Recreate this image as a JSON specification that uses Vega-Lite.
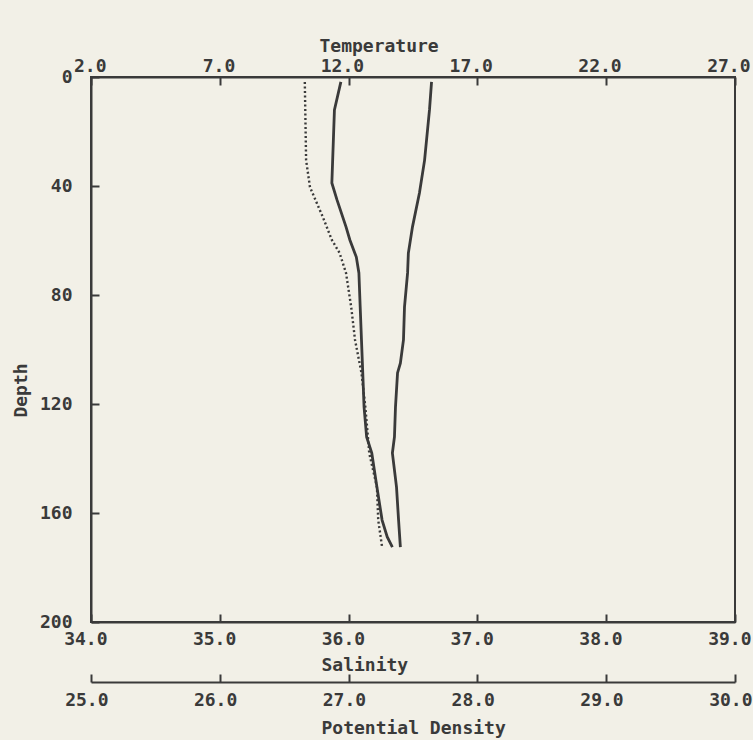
{
  "$schema": "https://vega.github.io/schema/vega-lite/v6.json",
  "width": 644,
  "height": 545,
  "autosize": {"type": "none"},
  "padding": {"left": 91, "top": 77, "right": 18, "bottom": 118},
  "background": "#f2f0e7",
  "config": {
    "view": {"stroke": "#3a3a3a", "strokeWidth": 2},
    "axis": {
      "labelFont": "DejaVu Sans Mono", "labelFontSize": 18, "labelFontWeight": "bold", "labelColor": "#3a3a3a",
      "titleFont": "DejaVu Sans Mono", "titleFontSize": 18, "titleFontWeight": "bold", "titleColor": "#3a3a3a",
      "domainColor": "#3a3a3a", "domainWidth": 2, "tickColor": "#3a3a3a", "tickWidth": 2,
      "grid": false, "labelFlush": false, "labelOverlap": false
    }
  },
  "datasets": {
    "temp": [
      {"depth": 1.8, "temperature": 15.22},
      {"depth": 12.1, "temperature": 15.14},
      {"depth": 30.5, "temperature": 14.95},
      {"depth": 42.6, "temperature": 14.75},
      {"depth": 55.0, "temperature": 14.48},
      {"depth": 64.6, "temperature": 14.32},
      {"depth": 71.9, "temperature": 14.29},
      {"depth": 84.4, "temperature": 14.17},
      {"depth": 96.5, "temperature": 14.13},
      {"depth": 105.0, "temperature": 14.01},
      {"depth": 108.6, "temperature": 13.90},
      {"depth": 121.1, "temperature": 13.82},
      {"depth": 132.1, "temperature": 13.78},
      {"depth": 138.0, "temperature": 13.70},
      {"depth": 150.5, "temperature": 13.86},
      {"depth": 162.6, "temperature": 13.94},
      {"depth": 172.5, "temperature": 14.01}
    ],
    "sal": [
      {"depth": 1.8, "salinity": 35.94},
      {"depth": 12.1, "salinity": 35.89},
      {"depth": 38.9, "salinity": 35.87},
      {"depth": 45.1, "salinity": 35.91},
      {"depth": 55.0, "salinity": 35.98},
      {"depth": 59.8, "salinity": 36.01},
      {"depth": 66.1, "salinity": 36.06},
      {"depth": 71.9, "salinity": 36.08},
      {"depth": 84.4, "salinity": 36.09},
      {"depth": 96.5, "salinity": 36.10},
      {"depth": 108.6, "salinity": 36.11},
      {"depth": 121.1, "salinity": 36.12},
      {"depth": 132.1, "salinity": 36.14},
      {"depth": 138.0, "salinity": 36.18},
      {"depth": 150.5, "salinity": 36.22},
      {"depth": 162.6, "salinity": 36.26},
      {"depth": 168.8, "salinity": 36.30},
      {"depth": 172.5, "salinity": 36.34}
    ],
    "dens": [
      {"depth": 1.8, "density": 26.66},
      {"depth": 30.5, "density": 26.67},
      {"depth": 40.4, "density": 26.70},
      {"depth": 51.4, "density": 26.80},
      {"depth": 59.8, "density": 26.87},
      {"depth": 64.6, "density": 26.93},
      {"depth": 71.9, "density": 26.98},
      {"depth": 84.4, "density": 27.02},
      {"depth": 96.5, "density": 27.05},
      {"depth": 108.6, "density": 27.10},
      {"depth": 121.1, "density": 27.13},
      {"depth": 132.1, "density": 27.15},
      {"depth": 138.0, "density": 27.16},
      {"depth": 150.5, "density": 27.22},
      {"depth": 162.6, "density": 27.23},
      {"depth": 172.5, "density": 27.26}
    ]
  },
  "encoding": {
    "y": {
      "field": "depth", "type": "quantitative",
      "scale": {"domain": [0, 200], "reverse": true, "nice": false, "zero": false},
      "axis": {
        "title": "Depth", "values": [0, 40, 80, 120, 160, 200], "format": "d",
        "tickSize": -8, "labelPadding": 27, "labelBaseline": "middle", "labelAlign": "right",
        "titleX": -65, "titleY": 313, "titleAngle": -90, "titleAlign": "center", "titleBaseline": "alphabetic"
      }
    }
  },
  "layer": [
    {
      "data": {"name": "temp"},
      "mark": {"type": "line", "color": "#3a3a3a", "strokeWidth": 2.8},
      "encoding": {
        "x": {
          "field": "temperature", "type": "quantitative",
          "scale": {"domain": [2, 27], "nice": false, "zero": false},
          "axis": {
            "orient": "top", "title": "Temperature", "values": [2, 7, 12, 17, 22, 27], "format": ".1f",
            "tickSize": -8, "labelPadding": 14, "labelAlign": "right", "labelOffset": 15, "labelBaseline": "alphabetic",
            "titleX": 228, "titleY": -26, "titleAlign": "left", "titleBaseline": "alphabetic"
          }
        },
        "order": {"field": "depth", "type": "quantitative"}
      }
    },
    {
      "data": {"name": "sal"},
      "mark": {"type": "line", "color": "#3a3a3a", "strokeWidth": 2.8},
      "encoding": {
        "x": {
          "field": "salinity", "type": "quantitative",
          "scale": {"domain": [34, 39], "nice": false, "zero": false},
          "axis": {
            "orient": "bottom", "title": "Salinity", "values": [34, 35, 36, 37, 38, 39], "format": ".1f",
            "tickSize": -8, "labelPadding": 30, "labelAlign": "right", "labelOffset": 16, "labelBaseline": "alphabetic",
            "titleX": 230, "titleY": 48, "titleAlign": "left", "titleBaseline": "alphabetic"
          }
        },
        "order": {"field": "depth", "type": "quantitative"}
      }
    },
    {
      "data": {"name": "dens"},
      "mark": {"type": "line", "color": "#3a3a3a", "strokeWidth": 2.4, "strokeDash": [2, 2.5]},
      "encoding": {
        "x": {
          "field": "density", "type": "quantitative",
          "scale": {"domain": [25, 30], "nice": false, "zero": false},
          "axis": {
            "orient": "bottom", "offset": 60, "title": "Potential Density", "values": [25, 26, 27, 28, 29, 30], "format": ".1f",
            "tickSize": -8, "labelPadding": 31, "labelAlign": "right", "labelOffset": 17, "labelBaseline": "alphabetic",
            "titleX": 230, "titleY": 51, "titleAlign": "left", "titleBaseline": "alphabetic"
          }
        },
        "order": {"field": "depth", "type": "quantitative"}
      }
    }
  ],
  "resolve": {"scale": {"x": "independent"}, "axis": {"x": "independent"}}
}
